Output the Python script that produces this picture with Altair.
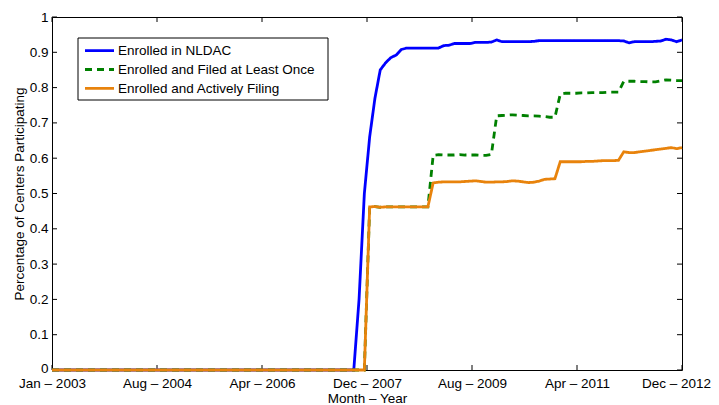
import json
import altair as alt
import pandas as pd

# ---------------- data ----------------
series_names = [
    "Enrolled in NLDAC",
    "Enrolled and Filed at Least Once",
    "Enrolled and Actively Filing",
]
series_colors = ["#0000FF", "#008000", "#E8830C"]
series_dash = [[1, 0], [7, 5], [1, 0]]

# month index 0 = Jan 2003 ... 119 = Dec 2012
months = list(range(120))

nldac = [
    0, 0, 0, 0, 0, 0, 0, 0, 0, 0, 0, 0, 0, 0, 0, 0, 0, 0, 0, 0,
    0, 0, 0, 0, 0, 0, 0, 0, 0, 0, 0, 0, 0, 0, 0, 0, 0, 0, 0, 0,
    0, 0, 0, 0, 0, 0, 0, 0, 0, 0, 0, 0, 0, 0, 0, 0, 0, 0,
    0.20, 0.50, 0.66, 0.77, 0.85, 0.87, 0.885, 0.892, 0.908, 0.912,
    0.912, 0.912, 0.912, 0.912, 0.912, 0.912, 0.919, 0.920, 0.925, 0.925,
    0.925, 0.925, 0.928, 0.928, 0.928, 0.929, 0.935, 0.930, 0.930, 0.930,
    0.930, 0.930, 0.930, 0.931, 0.933,
    0.933, 0.933, 0.933, 0.933, 0.933, 0.933, 0.933, 0.933, 0.933, 0.933,
    0.933, 0.933, 0.933, 0.933, 0.933,
    0.932, 0.927, 0.930, 0.930, 0.930, 0.930, 0.931, 0.932, 0.937, 0.935,
    0.930, 0.935,
]

filed = [
    0, 0, 0, 0, 0, 0, 0, 0, 0, 0, 0, 0, 0, 0, 0, 0, 0, 0, 0, 0,
    0, 0, 0, 0, 0, 0, 0, 0, 0, 0, 0, 0, 0, 0, 0, 0, 0, 0, 0, 0,
    0, 0, 0, 0, 0, 0, 0, 0, 0, 0, 0, 0, 0, 0, 0, 0, 0, 0, 0, 0,
    0.462, 0.463, 0.461, 0.462, 0.462, 0.462, 0.462, 0.462, 0.462, 0.462,
    0.462, 0.462, 0.608, 0.610, 0.609, 0.609, 0.609, 0.610, 0.609, 0.609,
    0.609, 0.608, 0.608, 0.611, 0.720, 0.721, 0.722, 0.723, 0.722, 0.721,
    0.720, 0.720, 0.719, 0.718, 0.716, 0.716, 0.781, 0.784, 0.784, 0.784,
    0.785, 0.785, 0.786, 0.786, 0.786, 0.787, 0.787, 0.787, 0.818, 0.818,
    0.818, 0.817, 0.817, 0.816, 0.816, 0.819, 0.822, 0.821, 0.820, 0.820,
]

active = [
    0, 0, 0, 0, 0, 0, 0, 0, 0, 0, 0, 0, 0, 0, 0, 0, 0, 0, 0, 0,
    0, 0, 0, 0, 0, 0, 0, 0, 0, 0, 0, 0, 0, 0, 0, 0, 0, 0, 0, 0,
    0, 0, 0, 0, 0, 0, 0, 0, 0, 0, 0, 0, 0, 0, 0, 0, 0, 0, 0, 0,
    0.462, 0.463, 0.461, 0.462, 0.462, 0.462, 0.462, 0.462, 0.462, 0.462,
    0.462, 0.462, 0.530, 0.532, 0.533, 0.533, 0.533, 0.533, 0.534, 0.535,
    0.536, 0.534, 0.532, 0.532, 0.533, 0.533, 0.534, 0.536, 0.535, 0.533,
    0.531, 0.532, 0.535, 0.540, 0.541, 0.542, 0.590, 0.590, 0.590, 0.590,
    0.590, 0.591, 0.591, 0.592, 0.593, 0.593, 0.593, 0.594, 0.618, 0.616,
    0.616, 0.618, 0.620, 0.622, 0.624, 0.626, 0.628, 0.630, 0.627, 0.630,
]

x_tick_labels = [
    "Jan \u2013 2003", "Aug \u2013 2004", "Apr \u2013 2006", "Dec \u2013 2007",
    "Aug \u2013 2009", "Apr \u2013 2011", "Dec \u2013 2012",
]
y_ticks = [0, 0.1, 0.2, 0.3, 0.4, 0.5, 0.6, 0.7, 0.8, 0.9, 1]

# ---------------- build table ----------------
rows = []
for name, vals in zip(series_names, [nldac, filed, active]):
    for m, v in zip(months, vals):
        rows.append({"month": m, "value": v, "series": name})
df = pd.DataFrame(rows)

W, H = 630, 353
FONT = "Liberation Sans"
FS = 13.5

n_int = len(x_tick_labels) - 1
x_tick_vals = [months[-1] * i / n_int for i in range(len(x_tick_labels))]
label_expr = json.dumps(x_tick_labels) + f"[round(datum.value * {n_int} / {months[-1]})]"

xs = alt.Scale(domain=[months[0], months[-1]], nice=False, zero=False)
ys = alt.Scale(domain=[0, 1], nice=False)

x_axis = alt.Axis(
    values=x_tick_vals,
    labelExpr=label_expr,
    title="Month \u2013 Year",
    ticks=False,
    domain=False,
    grid=False,
    labelFlush=False,
    labelOverlap=False,
    labelPadding=6.5,
    # keep the last label inside the page
    labelOffset={"condition": {"test": f"datum.value >= {months[-1]}", "value": -6}, "value": 0},
    titlePadding=1,
)
y_axis = alt.Axis(
    values=y_ticks,
    format="~g",
    title="Percentage of Centers Participating",
    ticks=False,
    domain=False,
    grid=False,
    labelFlush=False,
    labelOverlap=False,
    labelPadding=4,
    labelOffset={"condition": {"test": "datum.value == 0", "value": -1.5}, "value": 0},
    titlePadding=3,
)

lines = alt.Chart(df).mark_line(strokeWidth=2.8, clip=False).encode(
    x=alt.X("month:Q", scale=xs, axis=x_axis),
    y=alt.Y("value:Q", scale=ys, axis=y_axis),
    color=alt.Color(
        "series:N",
        scale=alt.Scale(domain=series_names, range=series_colors),
        legend=None,
    ),
    strokeDash=alt.StrokeDash(
        "series:N",
        scale=alt.Scale(domain=series_names, range=series_dash),
        legend=None,
    ),
)

# inward-pointing tick marks on all four sides (MATLAB box style)
ytick_df = pd.DataFrame({"v": y_ticks})
xtick_df = pd.DataFrame({"v": x_tick_vals})
TL = 5

left_ticks = alt.Chart(ytick_df).mark_rule(color="black", strokeWidth=1).encode(
    y=alt.Y("v:Q", scale=ys, axis=y_axis), x=alt.value(0), x2=alt.value(TL)
)
right_ticks = alt.Chart(ytick_df).mark_rule(color="black", strokeWidth=1).encode(
    y=alt.Y("v:Q", scale=ys, axis=y_axis), x=alt.value(W - TL), x2=alt.value(W)
)
bottom_ticks = alt.Chart(xtick_df).mark_rule(color="black", strokeWidth=1).encode(
    x=alt.X("v:Q", scale=xs, axis=x_axis), y=alt.value(H - TL), y2=alt.value(H)
)
top_ticks = alt.Chart(xtick_df).mark_rule(color="black", strokeWidth=1).encode(
    x=alt.X("v:Q", scale=xs, axis=x_axis), y=alt.value(0), y2=alt.value(TL)
)

# legend box (drawn by hand to match the MATLAB legend layout)
LX0, LX1, LY0, LY1 = 26, 276, 21, 83
ROW0, ROWSTEP = 33.7, 18.8
legend_box = alt.Chart(pd.DataFrame({"k": [0]})).mark_rect(
    fill="white", stroke="black", strokeWidth=1
).encode(
    x=alt.value(LX0), x2=alt.value(LX1), y=alt.value(LY0), y2=alt.value(LY1)
)
legend_layers = [legend_box]
for i, (name, col, dash) in enumerate(zip(series_names, series_colors, series_dash)):
    ypix = ROW0 + i * ROWSTEP
    legend_layers.append(
        alt.Chart(pd.DataFrame({"k": [0]})).mark_rule(
            color=col, strokeWidth=2.8, strokeDash=dash
        ).encode(x=alt.value(LX0 + 7), x2=alt.value(LX0 + 36), y=alt.value(ypix))
    )
    legend_layers.append(
        alt.Chart(pd.DataFrame({"k": [0]})).mark_text(
            align="left", baseline="middle", font=FONT, fontSize=FS, color="black"
        ).encode(x=alt.value(LX0 + 40), y=alt.value(ypix + 0.5), text=alt.value(name))
    )

chart = (
    alt.layer(left_ticks, right_ticks, bottom_ticks, top_ticks, lines, *legend_layers)
    .properties(
        width=W,
        height=H,
        autosize=alt.AutoSizeParams(type="none"),
        padding={"left": 44, "top": 9, "right": 29, "bottom": 35},
    )
    .configure_view(stroke="black", strokeWidth=1)
    .configure_axis(
        labelFont=FONT,
        titleFont=FONT,
        labelFontSize=FS,
        titleFontSize=FS,
        labelColor="black",
        titleColor="black",
        titleFontWeight="normal",
    )
)

chart.save("out.html", embed_options={"renderer": "svg", "actions": False})
